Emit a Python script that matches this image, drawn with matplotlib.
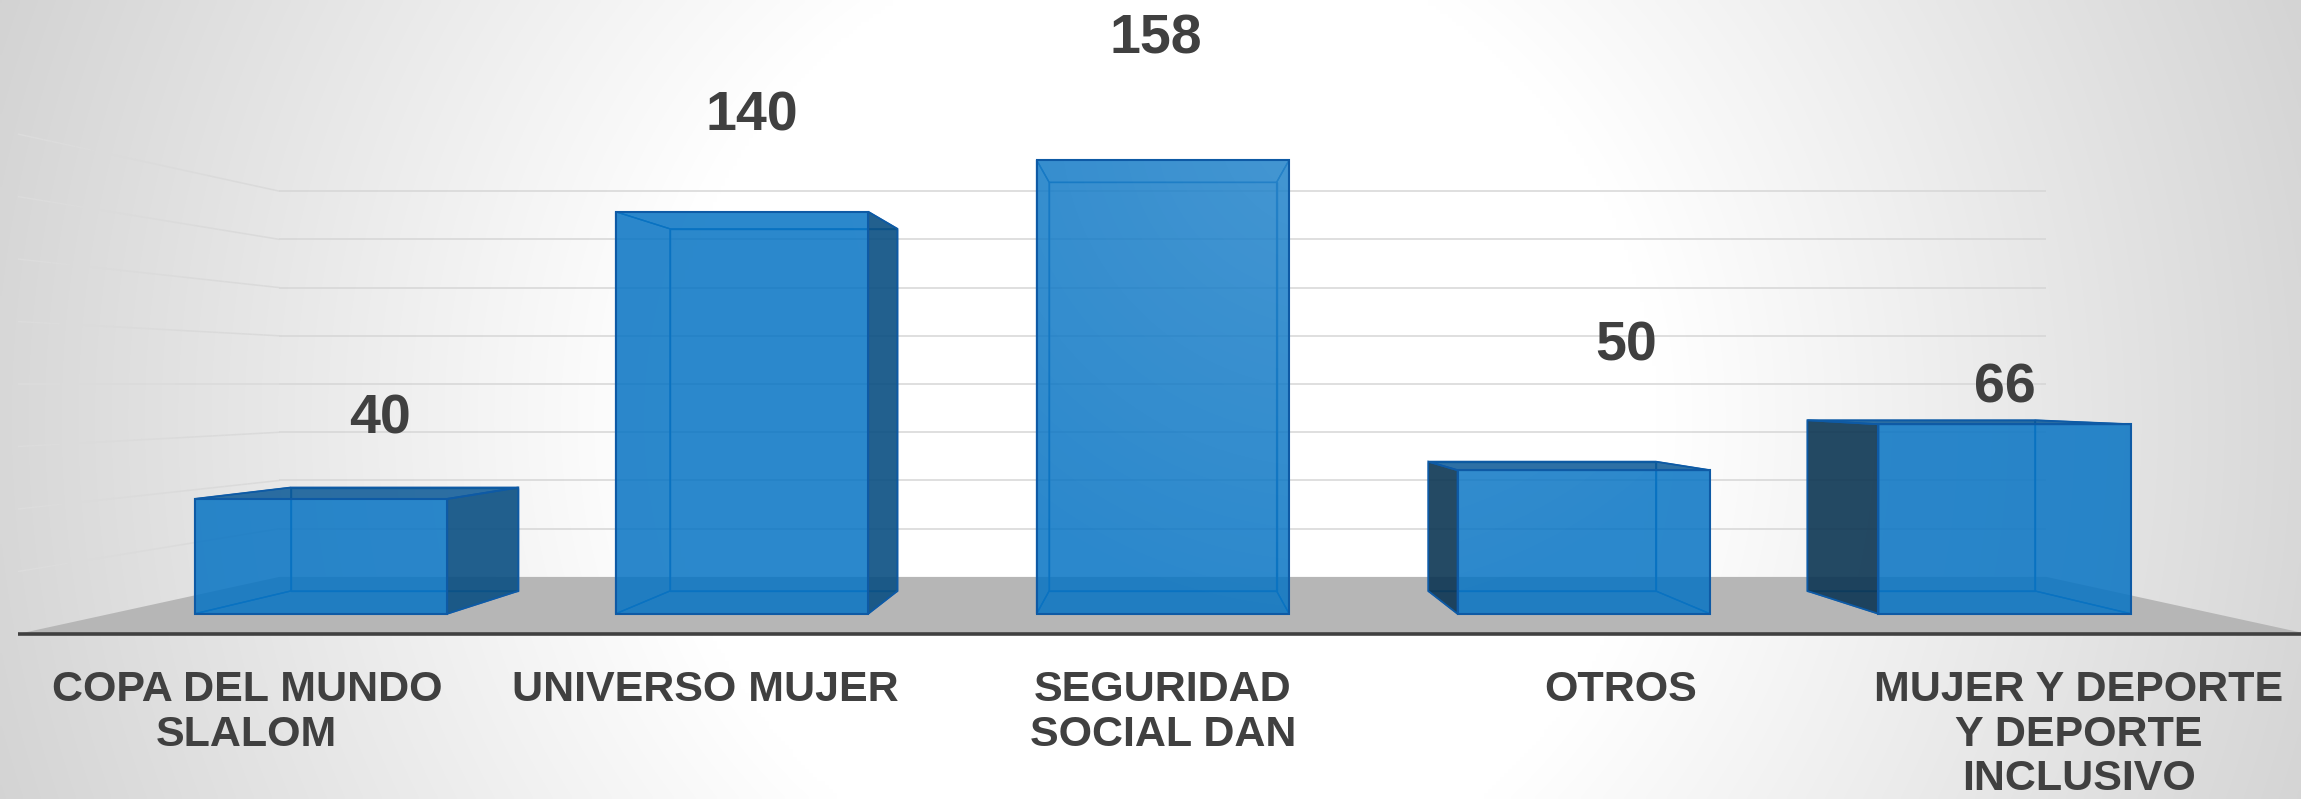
import numpy as np
import matplotlib.pyplot as plt
from matplotlib.patches import Polygon
from matplotlib.collections import LineCollection

plt.rcParams['font.family'] = ['Liberation Sans', 'DejaVu Sans']

categories = [
    "COPA DEL MUNDO\nSLALOM",
    "UNIVERSO MUJER",
    "SEGURIDAD\nSOCIAL DAN",
    "OTROS",
    "MUJER Y DEPORTE\nY DEPORTE\nINCLUSIVO",
]
values = [40, 140, 158, 50, 66]
y_max = 160
y_step = 20

# nudges (points) for the value labels, measured from the top of each column
label_nudge = [(11, 53), (-9, 75), (-5, 95), (46, 86), (32, 24)]

# simple one-point perspective: eye looks at the middle of the plot box
EYE = 5.0
GAP = 0.44
BAR_W = 0.6
BAR_D = 0.6
FLOOR_D = 2 * GAP + BAR_D
n = len(values)
xc, yc = (n - 1) / 2, y_max / 2

TEXT = '#404040'
FRONT = '#0673c3'
TOP = '#095795'
RIGHT_SIDE = '#0a4f82'
LEFT_SIDE = '#0c3653'
EDGE = '#0e5aa5'
EDGE_HIDDEN = '#1c70bb'


def proj(x, y, z):
    x, y, z = np.broadcast_arrays(np.asarray(x, float), np.asarray(y, float), np.asarray(z, float))
    k = EYE / (EYE + z)
    return xc + k * (x - xc), yc + k * (y - yc)


def face(pts):
    xs, ys, zs = zip(*pts)
    px, py = proj(xs, ys, zs)
    return np.column_stack([px, py])


def backdrop(px, py):
    # grey level of the radial background at pixel position (px, py)
    r = np.hypot(px - 1160, py - 420)
    return np.clip(255 - 0.06 * np.clip(r - 500, 0, None), 200, 255) / 255


W, H = 2301, 799
fig = plt.figure(figsize=(W / 100, H / 100), dpi=100)
ax = fig.add_axes([0, 0, 1, 1])
xlim = (-0.539, 4.485)
ylim = (-52.8, 202.9)
ax.set_xlim(*xlim)
ax.set_ylim(*ylim)

gx, gy = np.meshgrid(np.linspace(0, W, 576), np.linspace(0, H, 200))
shade = backdrop(gx, gy)
ax.imshow(np.dstack([shade] * 3), extent=(*xlim, *ylim), origin='upper',
          aspect='auto', interpolation='bilinear', zorder=0)

# soft highlight used on the column fronts
hr = np.hypot(gx - 1330, gy - 120)
glow = np.zeros(gx.shape + (4,))
glow[..., :3] = 1.0
glow[..., 3] = 0.13 * np.clip(1 - hr / 520, 0, 1)

# side wall gridlines: tinted against the local backdrop so they stay visible
for v in range(y_step, y_max + 1, y_step):
    zs = np.linspace(0, FLOOR_D, 40)
    sx, sy = proj(-0.5, v, zs)
    pts = np.column_stack([sx, sy])
    pix = ax.transData.transform(pts)
    b = backdrop(pix[:, 0], H - pix[:, 1])
    g = np.clip(b + 0.035 - (b - 0.83) / 0.17 * 0.195, 0, 1)
    segs = np.stack([pts[:-1], pts[1:]], axis=1)
    gm = (g[:-1] + g[1:]) / 2
    ax.add_collection(LineCollection(segs, colors=np.column_stack([gm, gm, gm]),
                                     linewidths=1.1, zorder=1, capstyle='butt'))
    bx, by = proj([-0.5, n - 0.5], [v, v], [FLOOR_D, FLOOR_D])
    ax.plot(bx, by, color='#d6d6d6', lw=1.1, zorder=1, solid_capstyle='butt')

# floor
floor = face([(-0.5, 0, 0), (n - 0.5, 0, 0), (n - 0.5, 0, FLOOR_D), (-0.5, 0, FLOOR_D)])
ax.add_patch(Polygon(floor, closed=True, fc='#b6b6b6', ec='none', zorder=1))

# category axis line along the front of the floor
axx, axy = proj([-0.5, n - 0.5], [0, 0], [0, 0])
ax.plot(axx, axy, color=TEXT, lw=2.6, zorder=2, solid_capstyle='butt')

z0, z1 = GAP, GAP + BAR_D
for i, v in enumerate(values):
    x0, x1 = i - BAR_W / 2, i + BAR_W / 2
    front = face([(x0, 0, z0), (x1, 0, z0), (x1, v, z0), (x0, v, z0)])
    back = face([(x0, 0, z1), (x1, 0, z1), (x1, v, z1), (x0, v, z1)])
    left = face([(x0, 0, z0), (x0, 0, z1), (x0, v, z1), (x0, v, z0)])
    right = face([(x1, 0, z0), (x1, 0, z1), (x1, v, z1), (x1, v, z0)])
    top = face([(x0, v, z0), (x1, v, z0), (x1, v, z1), (x0, v, z1)])
    bottom = face([(x0, 0, z0), (x1, 0, z0), (x1, 0, z1), (x0, 0, z1)])

    hidden = [back, bottom]
    shown = []
    if i < xc:
        shown.append((right, RIGHT_SIDE, 0.9))
        hidden.append(left)
    elif i > xc:
        shown.append((left, LEFT_SIDE, 0.9))
        hidden.append(right)
    else:
        hidden += [left, right]
    if v < yc:
        shown.append((top, TOP, 0.85))
    else:
        hidden.append(top)

    for f in hidden:
        ax.add_patch(Polygon(f, closed=True, fill=False, ec=EDGE_HIDDEN, lw=1.0, zorder=3))
    for f, c, a in shown:
        ax.add_patch(Polygon(f, closed=True, fc=c, alpha=a, ec='none', zorder=4))
        ax.add_patch(Polygon(f, closed=True, fill=False, ec=EDGE, lw=1.3, zorder=6))

    fp = Polygon(front, closed=True, fc=FRONT, alpha=0.85, ec='none', zorder=4)
    ax.add_patch(fp)
    im = ax.imshow(glow, extent=(*xlim, *ylim), origin='upper', aspect='auto',
                   interpolation='bilinear', zorder=5)
    im.set_clip_path(fp)
    ax.add_patch(Polygon(front, closed=True, fill=False, ec=EDGE, lw=1.5, zorder=6))

    # value label above the column
    lx, ly = proj(i, v, GAP + BAR_D / 2)
    ax.annotate(str(v), xy=(float(lx), float(ly)), xytext=label_nudge[i],
                textcoords='offset points', ha='center', va='center',
                fontsize=40, fontweight='bold', color=TEXT, zorder=7)

# category labels under the front edge of the floor
for i, cat in enumerate(categories):
    cx, cy = proj(i, 0, 0)
    ax.annotate(cat, xy=(float(cx), float(cy)), xytext=(0, -26),
                textcoords='offset points', ha='center', va='top',
                fontsize=31, fontweight='bold', color=TEXT, linespacing=1.15,
                zorder=7)

ax.set_xlim(*xlim)
ax.set_ylim(*ylim)
ax.axis('off')
fig.savefig('out.png', dpi=100)
